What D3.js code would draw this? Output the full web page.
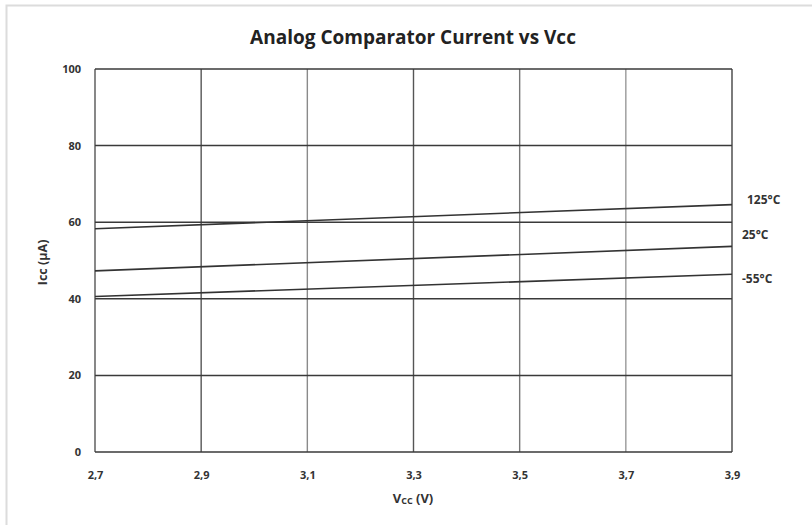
<!DOCTYPE html>
<html><head><meta charset="utf-8">
<script src="https://cdn.jsdelivr.net/npm/d3@7"></script>
<style>body{margin:0;background:#fff;} svg{display:block;font-family:"Open Sans",sans-serif;}</style>
</head><body>
<script>
const vccTicks = [2.7, 2.9, 3.1, 3.3, 3.5, 3.7, 3.9];
const iccTicks = [0, 20, 40, 60, 80, 100];
const vcc = [2.7, 3.9];
const series = [
  {name: "125°C", values: [58.3, 64.6]},
  {name: "25°C", values: [47.3, 53.7]},
  {name: "-55°C", values: [40.6, 46.4]}
];
const labelY = {"125°C": 65.8, "25°C": 56.6, "-55°C": 45.1};

const W = 812, H = 525;
const m = {l: 95, r: 80, t: 69, b: 73};
const svg = d3.select("body").append("svg").attr("width", W).attr("height", H);
svg.append("rect").attr("x", 6.5).attr("y", 5.5).attr("width", W + 10).attr("height", H + 10)
  .attr("fill", "#fff").attr("stroke", "#dcdcdc").attr("stroke-width", 2);

const x = d3.scaleLinear().domain([2.7, 3.9]).range([m.l, W - m.r]);
const y = d3.scaleLinear().domain([0, 100]).range([H - m.b, m.t]);

const g = svg.append("g");
const vColors = ["#555", "#555", "#8a8a8a", "#555", "#777", "#999", "#444"];
vccTicks.forEach((v, i) => {
  g.append("line").attr("x1", x(v)).attr("x2", x(v)).attr("y1", y(0)).attr("y2", y(100))
    .attr("stroke", vColors[i]).attr("stroke-width", 1.4);
});
iccTicks.forEach(v => {
  g.append("line").attr("x1", x(2.7)).attr("x2", x(3.9)).attr("y1", y(v)).attr("y2", y(v))
    .attr("stroke", "#3a3a3a").attr("stroke-width", 1.5);
});
const tickFont = {size: 11, fill: "#333"};
const xAxis = d3.axisBottom(x).tickValues(vccTicks).tickSize(0).tickFormat(d => d3.format(".1f")(d).replace(".", ","));
const xa = svg.append("g").attr("transform", `translate(0,${y(0)})`).call(xAxis);
xa.select(".domain").remove();
xa.selectAll("text").attr("dy", 0).attr("y", 27).attr("font-size", tickFont.size).attr("font-weight", "bold").attr("fill", tickFont.fill).attr("font-family", "'Open Sans', sans-serif");
const yAxis = d3.axisLeft(y).tickValues(iccTicks).tickSize(0);
const ya = svg.append("g").attr("transform", `translate(${x(2.7)},0)`).call(yAxis);
ya.select(".domain").remove();
ya.selectAll("text").attr("x", -14).attr("font-size", tickFont.size).attr("font-weight", "bold").attr("fill", tickFont.fill).attr("font-family", "'Open Sans', sans-serif");

const line = d3.line().x((d, i) => x(vcc[i])).y(d => y(d));
series.forEach(s => {
  svg.append("path").attr("d", line(s.values)).attr("fill", "none").attr("stroke", "#333").attr("stroke-width", 1.6);
  svg.append("text").attr("x", s.name === "125°C" ? 747 : 742).attr("y", y(labelY[s.name]))
    .attr("dy", "0.35em").attr("font-size", 12).attr("font-weight", "bold").attr("fill", "#333").text(s.name);
});

svg.append("text").attr("x", 413).attr("y", 44).attr("text-anchor", "middle")
  .attr("font-size", 19).attr("font-weight", "bold").attr("fill", "#222").text("Analog Comparator Current vs Vcc");
const xt = svg.append("text").attr("x", 413).attr("y", 503).attr("text-anchor", "middle")
  .attr("font-size", 13).attr("font-weight", "bold").attr("fill", "#333");
xt.append("tspan").text("V");
xt.append("tspan").attr("font-size", 9).attr("dy", 1).text("CC");
xt.append("tspan").attr("dy", -1).text(" (V)");
svg.append("text").attr("transform", `translate(47,${y(49.5)}) rotate(-90)`).attr("text-anchor", "middle")
  .attr("font-size", 12.5).attr("font-weight", "bold").attr("fill", "#333").text("Icc (µA)");
</script>
</body></html>
